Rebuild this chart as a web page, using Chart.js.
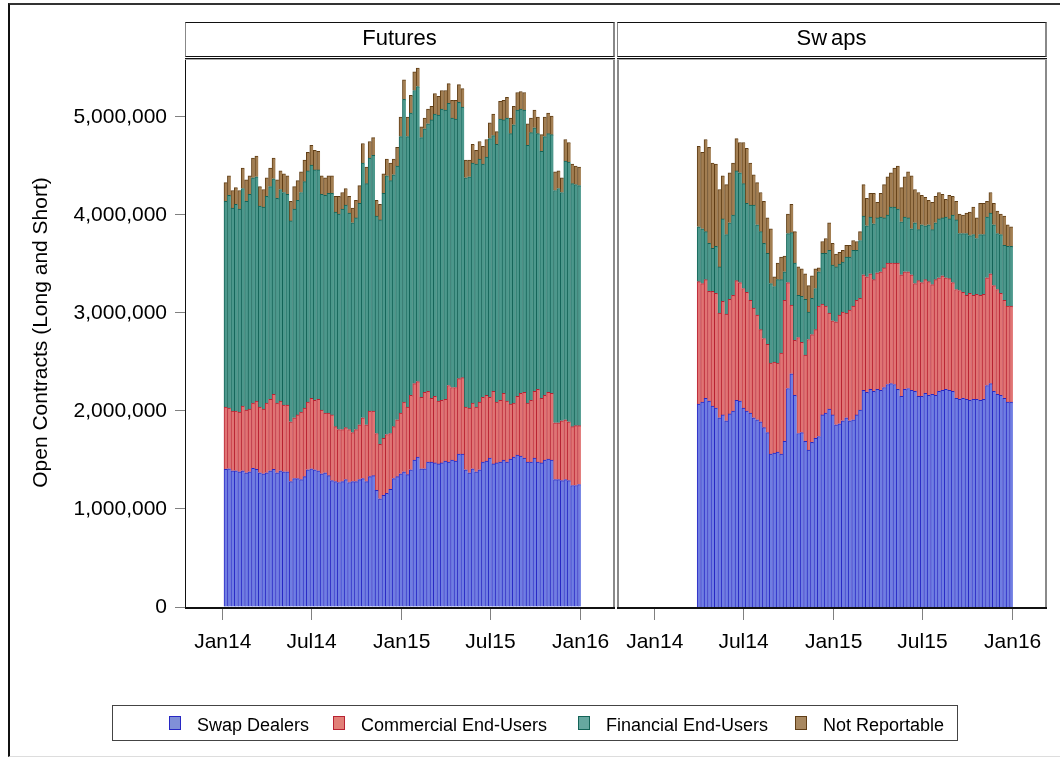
<!DOCTYPE html>
<html><head><meta charset="utf-8">
<script src="https://cdn.jsdelivr.net/npm/chart.js@4.4.1/dist/chart.umd.min.js"></script>
<style>
html,body{margin:0;padding:0;background:#fff;}
body{width:1060px;height:758px;position:relative;overflow:hidden;font-family:"Liberation Sans",Arial,sans-serif;color:#000;}
#frame{position:absolute;left:8px;top:3px;width:1100px;height:751px;border-top:2px solid #333;border-left:2px solid #111;border-bottom:1px solid #ddd;}
.hdr{position:absolute;top:22px;height:35px;width:430px;box-sizing:border-box;border-top:1px solid #111;border-bottom:1px solid #111;border-left:1px solid #888;border-right:2px solid #888;font-size:22px;line-height:29px;text-align:center;white-space:nowrap;}
.wrap{position:absolute;top:0;}
#legend{position:absolute;left:112px;top:705px;width:846px;height:36px;box-sizing:border-box;border:1px solid #444;}
.sw{position:absolute;top:716px;width:12px;height:14px;box-sizing:border-box;border:1px solid;}
.lt{position:absolute;top:715px;font-size:18px;line-height:20px;white-space:nowrap;}
</style>
</head>
<body>
<div id="frame"></div>
<div class="wrap" style="left:0;width:616px;height:758px;"><canvas id="cFut" width="616" height="758"></canvas></div>
<div class="wrap" style="left:616px;width:444px;height:758px;"><canvas id="cSwp" width="444" height="758"></canvas></div>
<div class="hdr" style="left:185px;">Futures</div>
<div class="hdr" style="left:617px;"><span>Sw</span><span style="margin-left:4px">aps</span></div>
<div id="legend"></div>
<div id="legendItems"></div>
<script>
// ---- Data (thousands of open contracts, long and short), weekly ----
const firstWeek = '2014-01-07';           // first weekly report date
const swapsFirstWeekIndex = 12;            // swaps series begins 2014-04-01
const panels = ['Futures', 'Swaps'];
const seriesNames = ['Swap Dealers', 'Commercial End-Users', 'Financial End-Users', 'Not Reportable'];
const tickDates = ['2014-01-01', '2014-07-01', '2015-01-01', '2015-07-01', '2016-01-01'];
const tickLabels = ['Jan14', 'Jul14', 'Jan15', 'Jul15', 'Jan16'];
const yTicks = [0, 1000000, 2000000, 3000000, 4000000, 5000000];

const futSD = [1405,1410,1390,1390,1380,1390,1370,1380,1415,1405,
1370,1360,1370,1390,1405,1370,1390,1380,1380,1280,
1310,1310,1300,1330,1400,1410,1400,1390,1360,1370,
1340,1290,1280,1270,1280,1300,1270,1280,1280,1300,
1310,1280,1330,1340,1190,1105,1140,1160,1200,1310,
1330,1360,1380,1350,1400,1500,1530,1410,1410,1480,
1480,1470,1460,1470,1490,1480,1500,1490,1560,1560,
1400,1370,1410,1380,1400,1480,1490,1520,1460,1470,
1480,1500,1480,1510,1530,1550,1540,1520,1480,1480,
1520,1480,1470,1500,1510,1500,1300,1300,1290,1300,
1290,1240,1240,1250];
const futCE = [635,620,610,610,610,660,640,640,665,695,
670,660,710,730,765,710,710,680,680,610,
620,650,690,700,690,720,710,730,650,610,
640,670,560,540,530,530,540,500,530,560,
620,580,670,660,580,555,580,600,570,530,
580,620,710,690,760,780,770,730,780,720,
650,680,640,640,630,780,740,750,770,780,
640,660,670,660,690,660,670,620,740,620,
630,680,620,560,550,600,640,670,600,630,
680,740,660,660,680,680,580,580,610,610,
600,600,610,600];
const futFE = [2100,2170,2070,2110,2070,2220,2130,2190,2300,2290,
2050,2060,2110,2170,2200,2090,2160,2170,2150,2050,
2130,2190,2240,2310,2360,2380,2350,2340,2200,2220,
2240,2260,2190,2200,2250,2270,2210,2140,2160,2260,
2600,2460,2580,2610,2220,2290,2500,2640,2580,2570,
2590,2820,3090,2760,2880,2990,3010,2650,2690,2730,
2840,2880,2920,2970,2950,2880,2750,2740,2820,2760,
2340,2360,2450,2480,2480,2380,2430,2640,2610,2630,
2870,2790,2890,2760,2840,2920,2900,2880,2630,2730,
2690,2610,2520,2640,2640,2640,2370,2390,2330,2640,
2650,2480,2460,2450];
const futNR = [190,200,180,170,190,210,220,190,200,210,
200,180,190,190,210,190,190,190,190,200,
230,200,210,220,190,200,200,190,190,180,
180,180,160,180,170,170,170,150,180,180,
200,170,170,180,160,160,200,170,180,160,
190,200,200,200,180,190,190,110,110,150,
140,210,190,190,200,200,180,190,180,190,
180,170,190,140,180,180,180,160,220,130,
180,200,210,160,190,180,180,180,220,150,
180,170,170,200,210,190,190,180,150,220,
200,200,190,190];

const swpSD = [2070,2090,2130,2100,2050,2030,1930,1960,1900,1970,
2000,2110,2100,2030,2000,1980,1930,1910,1890,1830,
1780,1560,1570,1580,1560,1690,2230,2380,2160,1770,
1780,1690,1600,1680,1720,1740,1960,1980,2020,1960,
1860,1870,1900,1930,1900,1910,1960,2010,2210,2190,
2220,2200,2220,2210,2240,2270,2280,2270,2220,2150,
2220,2230,2210,2200,2150,2150,2180,2160,2170,2160,
2200,2210,2220,2210,2200,2130,2120,2130,2120,2110,
2120,2120,2110,2120,2260,2280,2200,2170,2160,2130,
2090,2090];
const swpCE = [1250,1210,1210,1120,1170,1170,1070,1160,1090,1170,
1180,1220,1210,1220,1210,1150,1120,1070,940,910,
900,930,930,910,1030,1440,1080,700,560,980,
920,880,1130,1100,1110,1330,1130,1090,980,960,
1050,1110,1110,1070,1130,1160,1170,1140,1180,1180,
1180,1140,1190,1210,1220,1240,1230,1240,1290,1240,
1200,1190,1180,1100,1180,1160,1160,1160,1120,1180,
1160,1170,1140,1140,1110,1110,1110,1080,1060,1090,
1060,1070,1070,1070,1100,1120,1080,1070,1040,1000,
980,980];
const swpFE = [560,560,490,490,440,480,470,840,810,780,
820,1120,1120,1070,910,970,1050,920,1000,970,
930,810,770,850,750,290,500,740,790,430,
470,570,280,370,420,350,520,540,640,570,
560,520,510,570,540,570,510,590,600,520,
580,570,560,560,510,490,570,570,550,540,
560,550,470,620,520,590,550,580,560,580,
600,590,620,610,690,710,580,600,630,590,
620,570,620,610,620,620,620,570,600,560,
610,610];
const swpNR = [820,780,940,980,870,840,790,440,510,510,
530,330,310,420,560,430,310,430,400,430,
360,560,100,170,230,160,200,290,320,290,
280,260,270,230,200,40,120,150,280,220,
130,120,120,120,120,100,90,90,320,280,
240,310,160,240,340,390,350,400,440,350,
410,470,540,340,380,300,290,250,280,270,
270,240,180,240,190,190,200,190,210,240,
280,210,320,320,160,210,220,230,210,300,
220,200];

// ---- styling ----
const fills   = ['rgb(112,126,226)', 'rgb(224,116,116)', 'rgb(76,152,140)', 'rgb(162,126,82)'];
const borders = ['rgb(40,40,196)',   'rgb(184,34,50)',   'rgb(20,100,88)',  'rgb(96,62,22)'];
const legendFills = ['rgb(128,144,216)', 'rgb(226,128,120)', 'rgb(102,168,160)', 'rgb(168,136,96)'];
const FONT = '"Liberation Sans", Arial, sans-serif';

// ---- helpers ----
const DAY = 86400000;
const base = Date.UTC(2014, 0, 1);
const dayOf = s => { const [y, m, d] = s.split('-').map(Number); return (Date.UTC(y, m - 1, d) - base) / DAY; };
const week0 = dayOf(firstWeek);
const tickDays = tickDates.map(dayOf);

function makeDatasets(series, startIndex) {
  return series.map((vals, k) => ({
    label: seriesNames[k],
    data: vals.map((v, i) => ({ x: week0 + 7 * (startIndex + i), y: v * 1000 })),
    backgroundColor: fills[k],
    borderColor: borders[k],
    borderWidth: { left: 1, top: 1, right: 0, bottom: 0 },
    borderSkipped: 'start',
    categoryPercentage: 1.0,
    barPercentage: 1.0
  }));
}

const framePlugin = {
  id: 'frame',
  afterDraw(chart, args, opts) {
    const { ctx, chartArea: a } = chart;
    ctx.save();
    const h = a.bottom - a.top;
    ctx.fillStyle = '#8a8a8a';
    if (opts.grayLeft) ctx.fillRect(a.left, a.top, 2, h);
    ctx.fillRect(a.right - 2, a.top, 2, h);
    ctx.fillStyle = '#111';
    if (!opts.grayLeft) ctx.fillRect(a.left, a.top, 1, h);
    ctx.fillRect(a.left, a.top, a.right - a.left, 1);
    ctx.fillStyle = '#aaa';
    ctx.fillRect(a.left, a.top + 1, a.right - a.left, 1);
    ctx.fillStyle = '#111';
    ctx.fillRect(a.left, a.bottom, a.right - a.left, 2);
    ctx.restore();
  }
};

function makeOptions(showY, padding, grayLeft) {
  return {
    responsive: false,
    animation: false,
    devicePixelRatio: 1,
    layout: { padding },
    plugins: { legend: { display: false }, tooltip: { enabled: false }, frame: { grayLeft } },
    scales: {
      x: {
        type: 'linear',
        stacked: true,
        offset: false,
        min: -77, max: 800,
        afterFit: s => { s.height = 151; s.paddingLeft = 0; s.paddingRight = 0; },
        afterBuildTicks: s => { s.ticks = tickDays.map(v => ({ value: v })); },
        ticks: {
          autoSkip: false, maxRotation: 0, minRotation: 0, padding: 10,
          color: '#000', font: { family: FONT, size: 21 },
          callback: (v, i) => tickLabels[i]
        },
        grid: { display: true, offset: false, drawOnChartArea: false, drawTicks: true, tickLength: 13, color: '#808080', lineWidth: 1 },
        border: { display: false }
      },
      y: {
        display: showY,
        stacked: true,
        min: 0, max: 5602000,
        afterFit: s => { s.width = showY ? 185 : 0; s.paddingTop = 0; s.paddingBottom = 0; },
        afterBuildTicks: s => { s.ticks = yTicks.map(v => ({ value: v })); },
        ticks: {
          padding: 8, color: '#000', font: { family: FONT, size: 21 },
          callback: v => Number(v).toLocaleString('en-US')
        },
        grid: { display: true, drawOnChartArea: false, drawTicks: true, tickLength: 10, color: '#808080', lineWidth: 1 },
        border: { display: false },
        title: {
          display: true, text: 'Open Contracts (Long and Short)', color: '#000',
          font: { family: FONT, size: 21 }, padding: { top: 29, bottom: 0 }
        }
      }
    }
  };
}

new Chart(document.getElementById('cFut'), {
  type: 'bar',
  data: { datasets: makeDatasets([futSD, futCE, futFE, futNR], 0) },
  options: makeOptions(true, { left: 0, top: 58, right: 1, bottom: 0 }, false),
  plugins: [framePlugin]
});
new Chart(document.getElementById('cSwp'), {
  type: 'bar',
  data: { datasets: makeDatasets([swpSD, swpCE, swpFE, swpNR], swapsFirstWeekIndex) },
  options: makeOptions(false, { left: 1, top: 58, right: 13, bottom: 0 }, true),
  plugins: [framePlugin]
});

// ---- legend ----
const legendTextX = [197, 361, 606, 823];
const li = document.getElementById('legendItems');
seriesNames.forEach((name, k) => {
  const sw = document.createElement('div');
  sw.className = 'sw';
  sw.style.left = (legendTextX[k] - 28) + 'px';
  sw.style.background = legendFills[k];
  sw.style.borderColor = borders[k];
  li.appendChild(sw);
  const t = document.createElement('div');
  t.className = 'lt';
  t.style.left = legendTextX[k] + 'px';
  t.textContent = name;
  li.appendChild(t);
});
</script>
</body></html>
